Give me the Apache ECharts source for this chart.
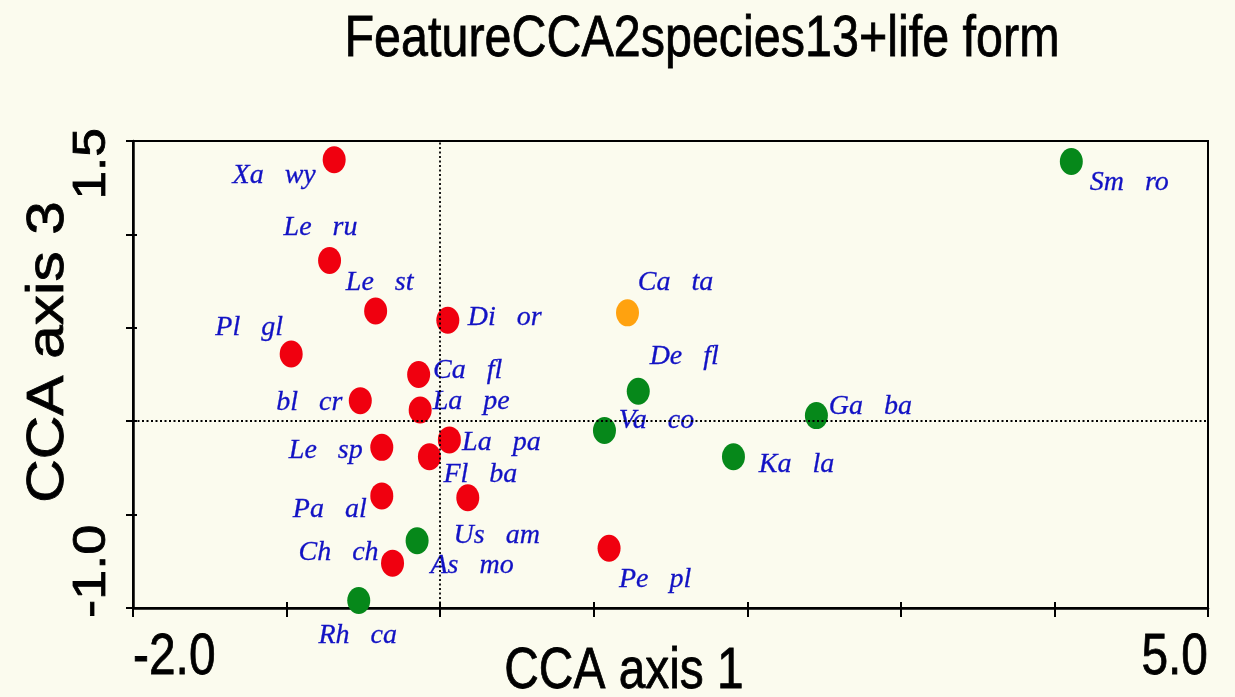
<!DOCTYPE html>
<html>
<head>
<meta charset="utf-8">
<script src="https://cdn.jsdelivr.net/npm/echarts@6/dist/echarts.min.js"></script>
<style>
  html, body { margin: 0; padding: 0; background: #fbfbee; }
  #chart { width: 1235px; height: 697px; }
</style>
</head>
<body>
<div id="chart"></div>
<script>
// Species scores on CCA axes 1 and 3, coloured by life form
const species = ['Xa wy', 'Le ru', 'Le st', 'Pl gl', 'Di or', 'Ca fl', 'La pe', 'bl cr',
  'Le sp', 'La pa', 'Fl ba', 'Us am', 'Pa al', 'As mo', 'Ch ch', 'Rh ca', 'Pe pl',
  'Ca ta', 'De fl', 'Va co', 'Ga ba', 'Ka la', 'Sm ro'];
const axis1 = [-0.69, -0.72, -0.42, -0.97, 0.05, -0.14, -0.13, -0.52,
  -0.38, 0.06, -0.07, 0.18, -0.38, -0.15, -0.31, -0.53, 1.10,
  1.22, 1.29, 1.07, 2.45, 1.91, 4.11];
const axis3 = [1.40, 0.86, 0.59, 0.36, 0.54, 0.25, 0.06, 0.11,
  -0.14, -0.10, -0.19, -0.41, -0.40, -0.64, -0.76, -0.96, -0.68,
  0.58, 0.16, -0.05, 0.03, -0.19, 1.39];
const lifeForm = [1, 1, 1, 1, 1, 1, 1, 1,
  1, 1, 1, 1, 1, 2, 1, 2, 1,
  3, 2, 2, 2, 2, 2];
const xTickLabels = ['-2.0', '5.0'];
const yTickLabels = ['-1.0', '1.5'];
const chartTitle = 'FeatureCCA2species13+life form';
const xName = 'CCA axis 1';
const yName = 'CCA axis 3';

// drawing styles
const lifeFormColor = { 1: '#f0000f', 2: '#06881a', 3: '#ffa20f' };
// label placement relative to each point (px)
const labelShift = {
  'Xa wy': [-60, 16], 'Le ru': [-9, -33], 'Le st': [4, -28], 'Pl gl': [-42, -26],
  'Di or': [57, -3], 'Ca fl': [49, -4], 'La pe': [51, -8], 'bl cr': [-51, 2],
  'Le sp': [-56, 3], 'La pa': [52, 3], 'Fl ba': [51, 18], 'Us am': [29, 38],
  'Pa al': [-52, 14], 'As mo': [55, 25], 'Ch ch': [-54, -11], 'Rh ca': [-1, 35],
  'Pe pl': [46, 31], 'Ca ta': [48, -30], 'De fl': [46, -35], 'Va co': [52, -10],
  'Ga ba': [54, -9], 'Ka la': [63, 8], 'Sm ro': [58, 21]
};

const points = species.map((name, i) => ({
  name: name,
  value: [axis1[i], axis3[i]],
  itemStyle: { color: lifeFormColor[lifeForm[i]], opacity: 1 }
}));

const X_MIN = -2, X_MAX = 5, Y_MIN = -1, Y_MAX = 1.5;

const axisBase = {
  type: 'value',
  axisLabel: { show: false },
  splitLine: { show: false }
};

const chart = echarts.init(document.getElementById('chart'), null, { renderer: 'canvas' });

chart.setOption({
  backgroundColor: '#fbfbee',
  animation: false,
  grid: {
    left: 133, right: 27, top: 141, bottom: 89,
    show: true, borderColor: '#000', borderWidth: 2, backgroundColor: 'transparent'
  },
  xAxis: [
    Object.assign({}, axisBase, {
      min: X_MIN, max: X_MAX, interval: 1, position: 'bottom',
      axisLine: { show: true, onZero: false, lineStyle: { color: '#000', width: 2.5 } },
      axisTick: { show: true, length: 9, lineStyle: { color: '#000', width: 2 } }
    }),
    Object.assign({}, axisBase, {
      min: X_MIN, max: X_MAX, interval: 1, position: 'bottom',
      axisLine: { show: false, onZero: false },
      axisTick: { show: true, inside: true, length: 6, lineStyle: { color: '#000', width: 2 } }
    })
  ],
  yAxis: [
    Object.assign({}, axisBase, {
      min: Y_MIN, max: Y_MAX, interval: 0.5, position: 'left',
      axisLine: { show: true, onZero: false, lineStyle: { color: '#000', width: 2.5 } },
      axisTick: { show: true, length: 7, lineStyle: { color: '#000', width: 2 } }
    }),
    Object.assign({}, axisBase, {
      min: Y_MIN, max: Y_MAX, interval: 0.5, position: 'left',
      axisLine: { show: false, onZero: false },
      axisTick: { show: true, inside: true, length: 4, lineStyle: { color: '#000', width: 2 } }
    })
  ],
  series: [{
    type: 'scatter',
    xAxisIndex: 0,
    yAxisIndex: 0,
    clip: false,
    symbol: 'circle',
    symbolSize: [23, 27],
    itemStyle: { opacity: 1 },
    emphasis: { disabled: true },
    data: points,
    label: {
      show: true,
      position: 'inside',
      formatter: p => p.name.replace(' ', '   '),
      fontFamily: '"Liberation Serif", "Times New Roman", serif',
      fontStyle: 'italic',
      fontSize: 28,
      color: '#1212c4',
      textBorderColor: '#1212c4',
      textBorderWidth: 0.3,
      opacity: 1
    },
    labelLayout: p => {
      const s = labelShift[species[p.dataIndex]] || [0, 0];
      return { dx: s[0], dy: s[1], hideOverlap: false };
    },
    markLine: {
      silent: true,
      symbol: 'none',
      label: { show: false },
      lineStyle: { color: '#000', width: 1.8, type: [2, 2.5], opacity: 1 },
      data: [{ xAxis: 0 }, { yAxis: 0 }]
    }
  }]
});

// Titles and end tick labels, placed from the axis scales
const px = v => chart.convertToPixel({ xAxisIndex: 0 }, v);
const py = v => chart.convertToPixel({ yAxisIndex: 0 }, v);
const sans = '"Liberation Sans", Arial, sans-serif';

function label(text, x, y, size, opts) {
  return Object.assign({
    type: 'text', x: x, y: y, silent: true,
    style: {
      text: text, fill: '#000', fontFamily: sans, fontSize: size,
      align: opts.align || 'center', verticalAlign: 'middle',
      stroke: '#000', lineWidth: 0.8
    }
  }, opts.t || {});
}

chart.setOption({
  graphic: [
    label(chartTitle, 702, 40, 57, { t: { scaleX: 0.85 } }),
    label(xName, 624, 672, 57, { t: { scaleX: 0.84 } }),
    label(xTickLabels[0], px(X_MIN), 658, 57, { align: 'left', t: { scaleX: 0.84 } }),
    label(xTickLabels[1], px(X_MAX), 658, 57, { align: 'right', t: { scaleX: 0.84 } }),
    label(yName, 49, 352, 52, { t: { rotation: Math.PI / 2, scaleX: 1.16 } }),
    label(yTickLabels[0], 92, py(Y_MIN) + 10, 46, { align: 'left', t: { rotation: Math.PI / 2, scaleX: 1.18 } }),
    label(yTickLabels[1], 92, py(Y_MAX) - 13, 46, { align: 'right', t: { rotation: Math.PI / 2, scaleX: 1.12 } })
  ]
});
</script>
</body>
</html>
